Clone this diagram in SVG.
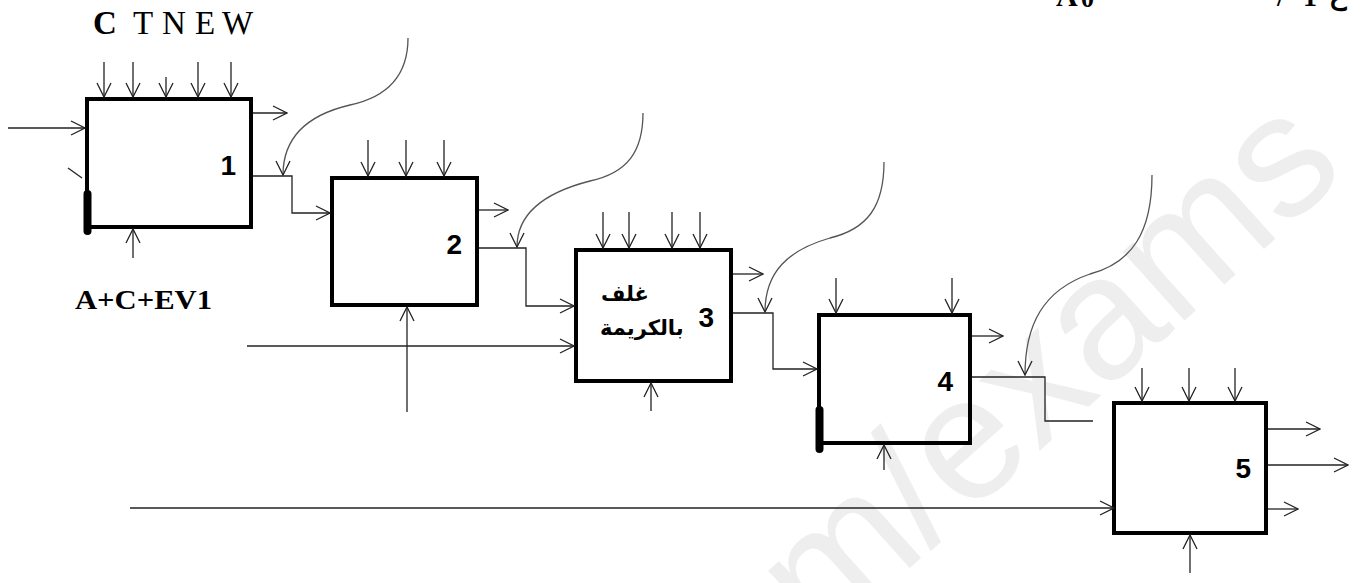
<svg xmlns="http://www.w3.org/2000/svg" width="1362" height="583" viewBox="0 0 1362 583">
<style>
.box{fill:none;stroke:#000;stroke-width:4;stroke-linejoin:miter}
.bar{stroke:#000;stroke-width:8;stroke-linecap:round}
.ln{fill:none;stroke:#222;stroke-width:1.3}
.ar{fill:none;stroke:#222;stroke-width:1.3;marker-end:url(#ah)}
.cv{fill:none;stroke:#555;stroke-width:1.3;marker-end:url(#ah)}
.num{font-family:"Liberation Sans",Arial,sans-serif;font-weight:bold;font-size:28px;fill:#000;text-anchor:end}
.ser{font-family:"Liberation Serif","Times New Roman",serif;fill:#000}
.ara{font-family:"DejaVu Sans","Noto Sans",sans-serif;font-weight:bold;font-size:21px;fill:#000}
.wm{font-family:"Liberation Sans",Arial,sans-serif;font-size:175px;fill:#eeeeee}
</style>
<defs>
<marker id="ah" viewBox="0 0 16 16" refX="15" refY="8" markerWidth="16" markerHeight="16" markerUnits="userSpaceOnUse" orient="auto">
<path d="M1,1 L15,8 L1,15" fill="none" stroke="#222" stroke-width="1.3"/>
</marker>
</defs>
<rect width="1362" height="583" fill="#fff"/>
<g id="watermark">
<text class="wm" x="0" y="0" text-anchor="middle" transform="translate(1085,410) rotate(-42)">m/exams</text>
</g>
<g id="header">
<text class="ser" x="1056" y="6" font-size="30" font-weight="bold">A</text>
<text class="ser" x="1081" y="7" font-size="26" font-weight="bold">0</text>
<text class="ser" x="1277" y="6" font-size="28" font-weight="bold">/</text>
<text class="ser" x="1303" y="6" font-size="28" font-weight="bold">1</text>
<text class="ser" x="1330" y="4" font-size="28" font-weight="bold" font-family="'DejaVu Serif','Liberation Serif',serif">ع</text>
<text class="ser" x="93" y="34" font-size="33" font-weight="bold">C</text>
<text class="ser" x="133" y="34" font-size="33">T</text>
<text class="ser" x="162" y="34" font-size="33">N</text>
<text class="ser" x="195" y="34" font-size="33">E</text>
<text class="ser" x="222" y="34" font-size="33">W</text>
<text class="ser" x="75" y="309" font-size="28" font-weight="bold" textLength="137" lengthAdjust="spacingAndGlyphs">A+C+EV1</text>
</g>
<g id="node1">
<rect class="box" x="87" y="99" width="164" height="128"/>
<line class="bar" x1="87.5" y1="194" x2="87.5" y2="231"/>
<text class="num" x="236" y="175">1</text>
</g>
<g id="node2">
<rect class="box" x="332" y="178" width="145" height="127"/>
<text class="num" x="462" y="254">2</text>
</g>
<g id="node3">
<rect class="box" x="576" y="250" width="155" height="131"/>
<text class="ara" x="601" y="301">غلف</text>
<text class="ara" x="600" y="335">بالكريمة</text>
<text class="num" x="714" y="327" font-size="26">3</text>
</g>
<g id="node4">
<rect class="box" x="819" y="315" width="151" height="128"/>
<line class="bar" x1="819.5" y1="410" x2="819.5" y2="449"/>
<text class="num" x="953" y="391">4</text>
</g>
<g id="node5">
<rect class="box" x="1114" y="403" width="152" height="130"/>
<text class="num" x="1251" y="478">5</text>
</g>
<g id="connectors">
<line class="ar" x1="104" y1="62" x2="104" y2="97"/>
<line class="ar" x1="133" y1="62" x2="133" y2="97"/>
<line class="ar" x1="166" y1="77" x2="166" y2="97"/>
<line class="ar" x1="198" y1="62" x2="198" y2="97"/>
<line class="ar" x1="231" y1="62" x2="231" y2="97"/>
<line class="ar" x1="8" y1="128" x2="85" y2="128"/>
<line class="ln" x1="68" y1="168" x2="82" y2="178" stroke-width="1.8"/>
<line class="ar" x1="253" y1="113" x2="287" y2="113"/>
<path class="ar" d="M253,176 H292 V213 H330"/>
<line class="ar" x1="133" y1="258" x2="133" y2="229"/>
<path class="cv" d="M408,38 C408,72 392,96 350,105 C303,116 283,140 283,175"/>
<line class="ar" x1="368" y1="140" x2="368" y2="176"/>
<line class="ar" x1="406" y1="140" x2="406" y2="176"/>
<line class="ar" x1="444" y1="140" x2="444" y2="176"/>
<line class="ar" x1="479" y1="210" x2="508" y2="210"/>
<path class="ar" d="M479,248 H526 V306 H574"/>
<line class="ar" x1="407" y1="412" x2="407" y2="307"/>
<line class="ar" x1="247" y1="346" x2="574" y2="346"/>
<path class="cv" d="M643,113 C643,152 627,173 590,181 C543,193 517,215 517,247"/>
<line class="ar" x1="603" y1="212" x2="603" y2="248"/>
<line class="ar" x1="629" y1="212" x2="629" y2="248"/>
<line class="ar" x1="672" y1="212" x2="672" y2="248"/>
<line class="ar" x1="700" y1="212" x2="700" y2="248"/>
<line class="ar" x1="733" y1="274" x2="763" y2="274"/>
<path class="ar" d="M733,313 H773 V369 H817"/>
<line class="ar" x1="651" y1="411" x2="651" y2="383"/>
<path class="cv" d="M884,162 C884,207 867,229 830,238 C788,250 765,272 765,312"/>
<line class="ar" x1="836" y1="278" x2="836" y2="313"/>
<line class="ar" x1="952" y1="278" x2="952" y2="313"/>
<line class="ar" x1="972" y1="336" x2="1003" y2="336"/>
<path class="ln" d="M972,377 H1045 V421 H1093"/>
<line class="ar" x1="884" y1="470" x2="884" y2="445"/>
<path class="cv" d="M1152,175 C1152,232 1132,263 1090,274 C1043,290 1025,325 1025,375"/>
<line class="ar" x1="1142" y1="368" x2="1142" y2="401"/>
<line class="ar" x1="1189" y1="368" x2="1189" y2="401"/>
<line class="ar" x1="1235" y1="368" x2="1235" y2="401"/>
<line class="ar" x1="1268" y1="429" x2="1320" y2="429"/>
<line class="ar" x1="1268" y1="465" x2="1348" y2="465"/>
<line class="ar" x1="1268" y1="509" x2="1298" y2="509"/>
<line class="ar" x1="1190" y1="573" x2="1190" y2="535"/>
<line class="ar" x1="130" y1="508" x2="1114" y2="508"/>
</g>
</svg>
